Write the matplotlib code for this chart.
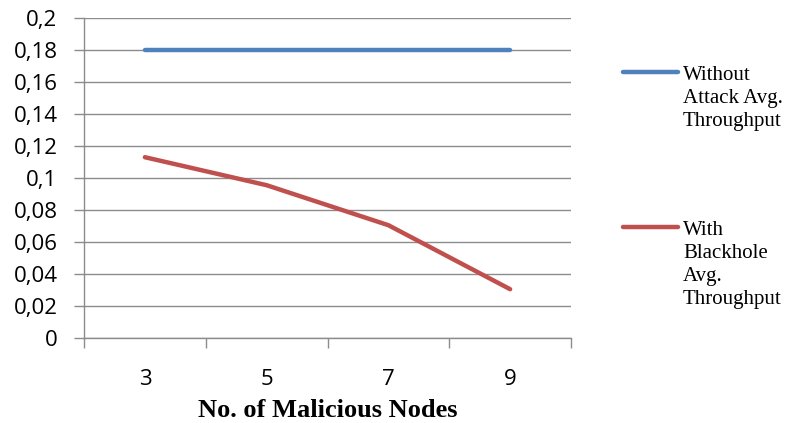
import matplotlib
matplotlib.use("Agg")
import matplotlib.pyplot as plt
from matplotlib.lines import Line2D
from matplotlib.ticker import FixedLocator, FuncFormatter

nodes = ["3", "5", "7", "9"]
without_attack = [0.18, 0.18, 0.18, 0.18]
with_blackhole = [0.113, 0.0955, 0.0705, 0.0305]
labels = ["Without\nAttack Avg.\nThroughput", "With\nBlackhole\nAvg.\nThroughput"]
colors = ["#4F81BD", "#C0504D"]
y_ticks = [0, 0.02, 0.04, 0.06, 0.08, 0.1, 0.12, 0.14, 0.16, 0.18, 0.2]

fig = plt.figure(figsize=(7.86, 4.23), dpi=100)
ax = fig.add_axes([84 / 786, 85 / 423, 487 / 786, 320 / 423])

x = list(range(len(nodes)))
ax.plot(x, without_attack, color=colors[0], lw=3.2, solid_capstyle="round", zorder=3)
ax.plot(x, with_blackhole, color=colors[1], lw=3.2, solid_capstyle="round",
        solid_joinstyle="round", zorder=3)

ax.set_xlim(-0.5, len(nodes) - 0.5)
ax.set_ylim(0, 0.2)

grid_c = "#8c8c8c"
ax.set_yticks(y_ticks)
ax.yaxis.set_major_formatter(FuncFormatter(lambda v, p: f"{v:g}".replace(".", ",")))
ax.set_xticks(x)
ax.set_xticklabels(nodes)
ax.xaxis.set_minor_locator(FixedLocator([i - 0.5 for i in range(len(nodes) + 1)]))
ax.tick_params(axis="x", which="major", length=0, pad=22, labelsize=16)
ax.tick_params(axis="x", which="minor", length=7, width=1, color=grid_c, direction="out")
ax.tick_params(axis="y", length=7, width=1, color=grid_c, direction="out", pad=12,
               labelsize=16)
for lab in ax.get_xticklabels() + ax.get_yticklabels():
    lab.set_fontfamily("Open Sans")

ax.grid(axis="y", color=grid_c, lw=1)
ax.set_axisbelow(True)
for s in ["top", "right"]:
    ax.spines[s].set_visible(False)
for s in ["left", "bottom"]:
    ax.spines[s].set_color(grid_c)
    ax.spines[s].set_linewidth(1)

ax.set_xlabel("No. of Malicious Nodes", fontfamily="Liberation Serif", fontweight="bold",
              fontsize=19)
ax.xaxis.set_label_coords(0.5, -(410 - 338) / 320)
ax.xaxis.label.set_va("center")

# legend drawn by hand to keep the wide spacing of the original
leg_y = [351 / 423, 196 / 423]
for lab, c, yy in zip(labels, colors, leg_y):
    fig.add_artist(Line2D([623 / 786, 678 / 786], [yy, yy], color=c, lw=3.2,
                          solid_capstyle="round", transform=fig.transFigure))
    fig.text(683 / 786, yy + 6 / 423, lab, fontfamily="Liberation Serif", fontsize=15,
             va="top", ha="left", linespacing=1.28)

fig.savefig("out.png", dpi=100)
